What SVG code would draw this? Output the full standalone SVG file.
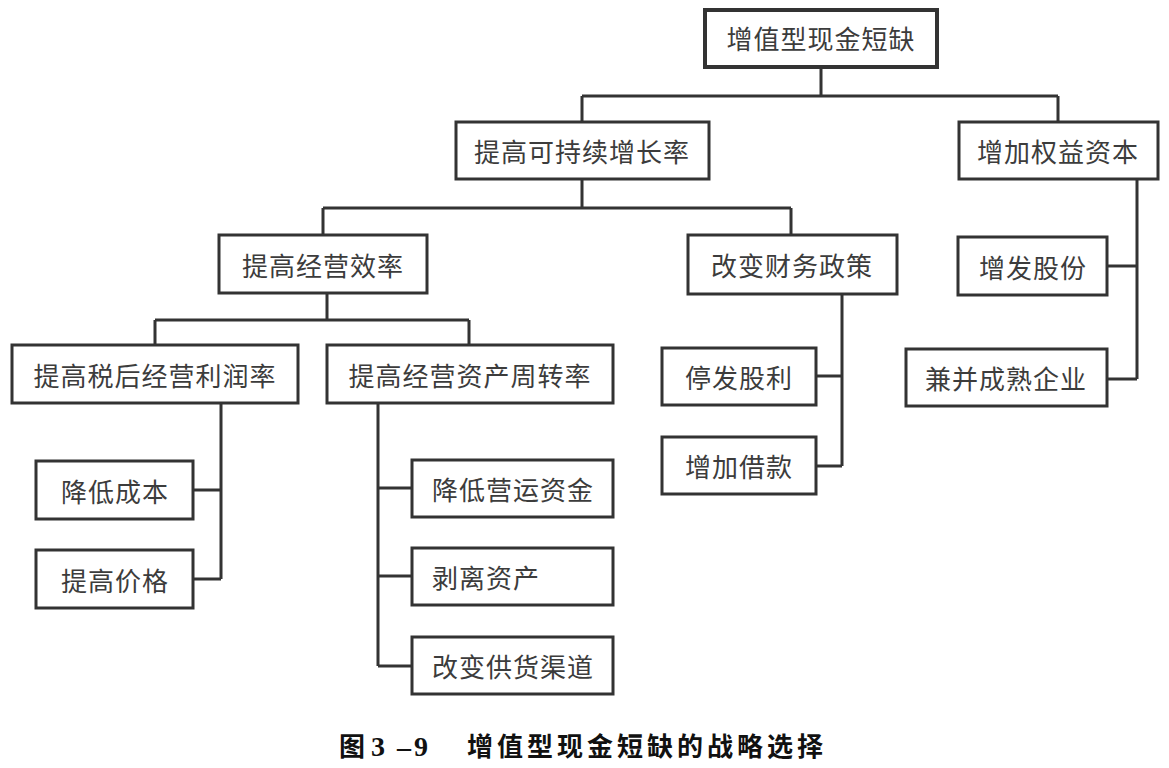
<svg xmlns="http://www.w3.org/2000/svg" width="1169" height="768" viewBox="0 0 1169 768">
<style>
.box{fill:#fff;stroke:#333;stroke-width:3}
.thick{stroke-width:4}
.t{font-family:"Noto Sans CJK SC","Noto Sans",sans-serif;font-size:26px;fill:#3c3c3c;text-anchor:middle;dominant-baseline:central;letter-spacing:1px}
.ts{text-anchor:start}
.c{fill:none;stroke:#333;stroke-width:3}
.cap{font-family:"Noto Sans CJK SC","Noto Sans",sans-serif;font-size:26px;font-weight:bold;fill:#111}
.capn{font-family:"Liberation Serif",serif;font-size:28px;font-weight:bold;fill:#111}
</style>
<rect width="1169" height="768" fill="#fff"/>
<g id="connectors">
<path class="c" d="M821 67V96M582 96H1058M582 96V122M1058 96V122"/>
<path class="c" d="M582 179V208M323 208H791M323 208V235M791 208V235"/>
<path class="c" d="M327 293V320M155 320H469M155 320V345M469 320V345"/>
<path class="c" d="M221 403V579M193 490H221M193 579H221"/>
<path class="c" d="M378 403V666M378 488H412M378 576H412M378 666H412"/>
<path class="c" d="M842 294V466M816 376H842M816 466H842"/>
<path class="c" d="M1137 179V379M1107 266H1137M1107 379H1137"/>
</g>
<g id="n1"><rect class="box thick" x="705" y="10" width="232" height="57"/><text class="t" x="821" y="37">增值型现金短缺</text></g>
<g id="n2"><rect class="box" x="456" y="122" width="253" height="57"/><text class="t" x="582" y="150">提高可持续增长率</text></g>
<g id="n3"><rect class="box" x="959" y="122" width="199" height="57"/><text class="t" x="1058" y="150">增加权益资本</text></g>
<g id="n4"><rect class="box" x="219" y="235" width="208" height="58"/><text class="t" x="323" y="264">提高经营效率</text></g>
<g id="n5"><rect class="box" x="688" y="235" width="209" height="59"/><text class="t" x="792" y="264">改变财务政策</text></g>
<g id="n6"><rect class="box" x="12" y="345" width="286" height="58"/><text class="t" x="155" y="374">提高税后经营利润率</text></g>
<g id="n7"><rect class="box" x="327" y="345" width="286" height="58"/><text class="t" x="470" y="374">提高经营资产周转率</text></g>
<g id="n8"><rect class="box" x="36" y="461" width="157" height="58"/><text class="t" x="115" y="490">降低成本</text></g>
<g id="n9"><rect class="box" x="36" y="550" width="157" height="58"/><text class="t" x="115" y="579">提高价格</text></g>
<g id="n10"><rect class="box" x="412" y="460" width="201" height="57"/><text class="t ts" x="432" y="488">降低营运资金</text></g>
<g id="n11"><rect class="box" x="412" y="548" width="201" height="57"/><text class="t ts" x="432" y="576">剥离资产</text></g>
<g id="n12"><rect class="box" x="412" y="637" width="201" height="57"/><text class="t ts" x="432" y="665">改变供货渠道</text></g>
<g id="n13"><rect class="box" x="662" y="348" width="154" height="57"/><text class="t" x="739" y="376">停发股利</text></g>
<g id="n14"><rect class="box" x="662" y="437" width="154" height="57"/><text class="t" x="739" y="465">增加借款</text></g>
<g id="n15"><rect class="box" x="958" y="237" width="149" height="58"/><text class="t" x="1033" y="266">增发股份</text></g>
<g id="n16"><rect class="box" x="906" y="349" width="201" height="57"/><text class="t" x="1006" y="377">兼并成熟企业</text></g>
<g id="caption">
<text class="cap" x="339" y="756">图</text>
<text class="capn" x="371" y="756">3</text>
<text class="capn" x="397" y="756">–</text>
<text class="capn" x="414" y="756">9</text>
<text class="cap" x="467" y="756" letter-spacing="4">增值型现金短缺的战略选择</text>
</g>
</svg>
